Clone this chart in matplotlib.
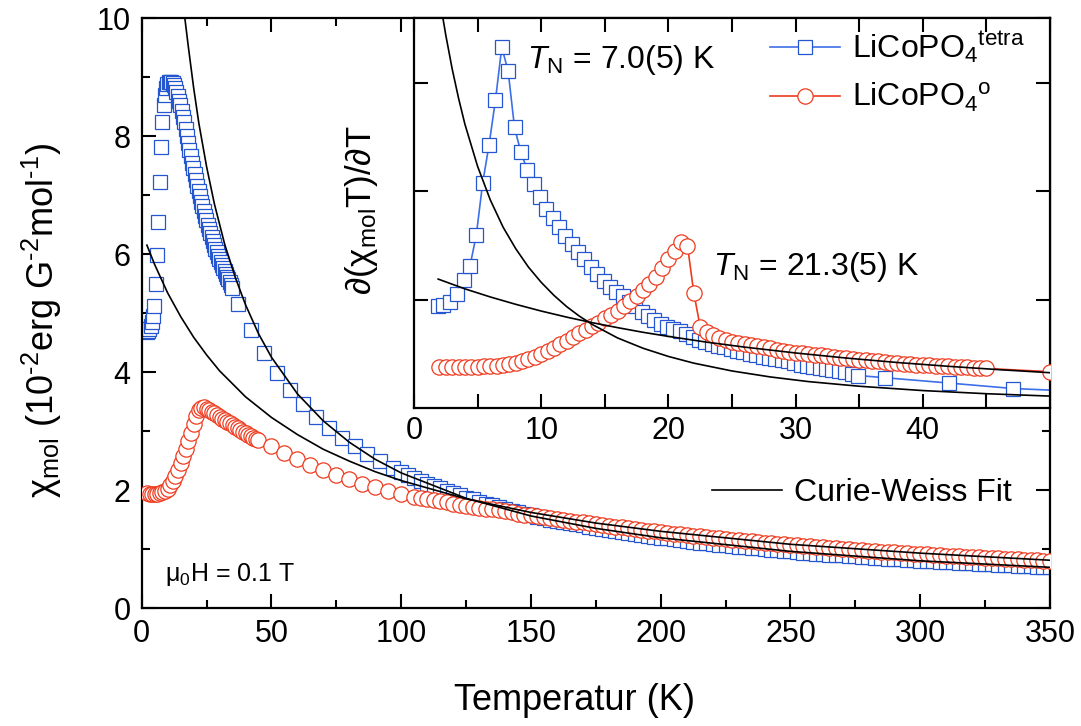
import matplotlib
matplotlib.use('Agg')
import matplotlib.pyplot as plt
from matplotlib.lines import Line2D
from matplotlib.ticker import MultipleLocator

plt.rcParams['font.family'] = ['Liberation Sans', 'DejaVu Sans']
plt.rcParams['mathtext.fontset'] = 'custom'
plt.rcParams['mathtext.rm'] = 'Liberation Sans'
plt.rcParams['mathtext.it'] = 'Liberation Sans:italic'
plt.rcParams['mathtext.bf'] = 'Liberation Sans:bold'

BLUE = '#2457cf'
BLUE_LINE = '#3d6fe8'
RED = '#ee3b1f'

# ---------------- main panel data: chi_mol vs T ----------------
tetra_T = [1.9, 2.3, 2.8, 3.4, 3.9, 4.4, 4.9, 5.4, 5.9, 6.4, 6.9, 7.4, 7.9, 8.4, 8.9, 9.4, 9.9,
           10.4, 10.9, 11.4, 11.9, 12.4, 12.9, 13.4, 13.9, 14.4, 14.9, 15.4, 15.9, 16.4, 16.9,
           17.4, 17.9, 18.4, 18.9, 19.4, 19.9, 20.4, 20.9, 21.4, 21.9, 22.4, 22.9, 23.4, 23.9,
           24.4, 24.9, 25.4, 25.9, 26.4, 26.9, 27.4, 27.9, 28.4, 28.9, 29.4, 29.9, 30.4, 30.9,
           31.4, 31.9, 32.4, 32.9, 33.4, 33.9, 34.4, 34.9,
           37, 42, 47, 52, 57, 62, 67, 72, 77, 82, 87, 92, 97,
           100, 102.5, 105, 107.5, 110, 112.5, 115, 117.5, 120, 122.5, 125, 127.5, 130, 132.5,
           135, 137.5, 140, 142.5, 145, 147.5, 150, 152.5, 155, 157.5, 160, 162.5, 165, 167.5,
           170, 172.5, 175, 177.5, 180, 182.5, 185, 187.5, 190, 192.5, 195, 197.5, 200, 202.5,
           205, 207.5, 210, 212.5, 215, 217.5, 220, 222.5, 225, 227.5, 230, 232.5, 235, 237.5,
           240, 242.5, 245, 247.5, 250, 252.5, 255, 257.5, 260, 262.5, 265, 267.5, 270, 272.5,
           275, 277.5, 280, 282.5, 285, 287.5, 290, 292.5, 295, 297.5, 300, 302.5, 305, 307.5,
           310, 312.5, 315, 317.5, 320, 322.5, 325, 327.5, 330, 332.5, 335, 337.5, 340, 342.5,
           345, 347.5, 350]
tetra_chi = [4.68, 4.70, 4.73, 4.78, 4.85, 4.95, 5.12, 5.50, 5.98, 6.55, 7.22, 7.82, 8.24, 8.52,
             8.70, 8.82, 8.88, 8.91, 8.92, 8.91, 8.89, 8.86, 8.81, 8.75, 8.68, 8.60, 8.52, 8.43,
             8.33, 8.23, 8.12, 8.00, 7.88, 7.77, 7.66, 7.55, 7.45, 7.35, 7.25, 7.16, 7.07, 6.98,
             6.89, 6.81, 6.73, 6.65, 6.57, 6.50, 6.43, 6.36, 6.29, 6.22, 6.15, 6.09, 6.03, 5.97,
             5.91, 5.86, 5.81, 5.76, 5.71, 5.66, 5.61, 5.57, 5.52, 5.48, 5.43,
             5.16, 4.72, 4.33, 3.99, 3.70, 3.45, 3.24, 3.05, 2.89, 2.74, 2.61, 2.49, 2.38,
             2.31, 2.26, 2.21, 2.16, 2.11, 2.07, 2.03, 1.99, 1.95, 1.91, 1.87, 1.84, 1.80, 1.77,
             1.74, 1.71, 1.68, 1.65, 1.625, 1.60, 1.575, 1.55, 1.525, 1.50, 1.48, 1.46, 1.44, 1.42,
             1.40, 1.38, 1.36, 1.34, 1.32, 1.305, 1.29, 1.27, 1.255, 1.24, 1.225, 1.21, 1.195, 1.18,
             1.165, 1.15, 1.14, 1.125, 1.11, 1.10, 1.09, 1.075, 1.065, 1.055, 1.04, 1.03, 1.02, 1.01,
             1.00, 0.99, 0.98, 0.97, 0.96, 0.95, 0.94, 0.932, 0.924, 0.915, 0.907, 0.899, 0.891, 0.883,
             0.875, 0.868, 0.86, 0.853, 0.846, 0.839, 0.832, 0.825, 0.818, 0.811, 0.804, 0.798, 0.791, 0.785,
             0.779, 0.773, 0.767, 0.761, 0.755, 0.749, 0.743, 0.738, 0.732, 0.727, 0.721, 0.716, 0.711, 0.706,
             0.701, 0.696, 0.691]

ortho_T = [2, 3, 4, 5, 6, 7, 8, 9, 10, 11, 12, 13, 14, 15, 16, 17, 18, 19, 20, 21, 22, 23, 24, 25,
           26, 27, 28, 29, 30, 31, 32, 33, 34, 35, 36, 37, 38, 39, 40, 41, 42, 43, 44, 45,
           50, 55, 60, 65, 70, 75, 80, 85, 90, 95, 100, 105,
           107.5, 110, 112.5, 115, 117.5, 120, 122.5, 125, 127.5, 130, 132.5, 135, 137.5, 140,
           142.5, 145, 147.5, 150, 152.5, 155, 157.5, 160, 162.5, 165, 167.5, 170, 172.5, 175,
           177.5, 180, 182.5, 185, 187.5, 190, 192.5, 195, 197.5, 200, 202.5, 205, 207.5, 210,
           212.5, 215, 217.5, 220, 222.5, 225, 227.5, 230, 232.5, 235, 237.5, 240, 242.5, 245,
           247.5, 250, 252.5, 255, 257.5, 260, 262.5, 265, 267.5, 270, 272.5, 275, 277.5, 280,
           282.5, 285, 287.5, 290, 292.5, 295, 297.5, 300, 302.5, 305, 307.5, 310, 312.5, 315,
           317.5, 320, 322.5, 325, 327.5, 330, 332.5, 335, 337.5, 340, 342.5, 345, 347.5, 350]
ortho_chi = [1.95, 1.94, 1.94, 1.94, 1.94, 1.95, 1.96, 1.98, 2.02, 2.08, 2.15, 2.24, 2.34, 2.45,
             2.57, 2.70, 2.83, 2.97, 3.12, 3.26, 3.35, 3.39, 3.40, 3.38, 3.35, 3.33, 3.30, 3.27,
             3.24, 3.21, 3.19, 3.16, 3.13, 3.10, 3.07, 3.05, 3.02, 2.99, 2.96, 2.94, 2.91, 2.88,
             2.86, 2.84,
             2.74, 2.63, 2.53, 2.43, 2.34, 2.26, 2.18, 2.11, 2.05, 1.99, 1.93, 1.88,
             1.87, 1.85, 1.83, 1.81, 1.79, 1.77, 1.75, 1.735, 1.72, 1.70, 1.685, 1.67, 1.655, 1.64,
             1.62, 1.60, 1.585, 1.57, 1.555, 1.54, 1.525, 1.51, 1.495, 1.48, 1.465, 1.45, 1.435, 1.42,
             1.405, 1.39, 1.38, 1.365, 1.35, 1.34, 1.325, 1.31, 1.30, 1.285, 1.275, 1.26, 1.25, 1.24,
             1.225, 1.215, 1.205, 1.19, 1.18, 1.17, 1.16, 1.15, 1.14, 1.13, 1.12, 1.11, 1.10, 1.09,
             1.08, 1.07, 1.062, 1.053, 1.045, 1.036, 1.028, 1.02, 1.012, 1.004, 0.996, 0.988, 0.98, 0.973,
             0.966, 0.958, 0.951, 0.944, 0.937, 0.93, 0.923, 0.916, 0.909, 0.903, 0.896, 0.89, 0.884, 0.877,
             0.871, 0.865, 0.859, 0.853, 0.847, 0.841, 0.836, 0.83, 0.824, 0.819, 0.814, 0.808, 0.803, 0.798]

# Curie-Weiss fit curves (main panel)
fit_tetra_T = [16.5, 18, 20, 22, 25, 28, 32, 36, 40, 45, 50, 60, 70, 80, 90, 100, 125, 150,
               175, 200, 250, 300, 350]
fit_tetra_chi = [10.04, 9.50, 8.82, 8.22, 7.48, 6.85, 6.16, 5.61, 5.14, 4.65, 4.25, 3.63, 3.17,
                 2.81, 2.52, 2.29, 1.86, 1.56, 1.35, 1.19, 0.96, 0.80, 0.69]
fit_ortho_T = [2, 5, 10, 15, 20, 25, 30, 40, 50, 60, 70, 80, 90, 100, 125, 150, 175, 200, 250,
               300, 350]
fit_ortho_chi = [6.15, 5.82, 5.34, 4.94, 4.59, 4.29, 4.02, 3.58, 3.23, 2.94, 2.69, 2.49, 2.31,
                 2.16, 1.85, 1.62, 1.44, 1.30, 1.08, 0.93, 0.81]

# ---------------- inset data: d(chi T)/dT ----------------
d_tetra_T = [1.9, 2.3, 2.8, 3.4, 3.9, 4.4, 4.9, 5.4, 5.9, 6.4, 6.9, 7.4, 7.9, 8.4, 8.9, 9.4, 9.9,
             10.4, 10.9, 11.4, 11.9, 12.4, 12.9, 13.4, 13.9, 14.4, 14.9, 15.4, 15.9, 16.4, 16.9,
             17.4, 17.9, 18.4, 18.9, 19.4, 19.9, 20.4, 20.9, 21.4, 21.9, 22.4, 22.9, 23.4, 23.9,
             24.4, 24.9, 25.4, 25.9, 26.4, 26.9, 27.4, 27.9, 28.4, 28.9, 29.4, 29.9, 30.4, 30.9,
             31.4, 31.9, 32.4, 32.9, 33.4, 33.9, 34.4, 34.9, 37.0, 42.1, 47.1, 52.0]
d_tetra = [0.94, 0.95, 0.98, 1.05, 1.18, 1.31, 1.60, 2.08, 2.43, 2.84, 3.33, 3.11, 2.59, 2.36,
           2.20, 2.07, 1.95, 1.84, 1.75, 1.67, 1.59, 1.51, 1.44, 1.38, 1.30, 1.24, 1.17, 1.12,
           1.07, 1.03, 0.98, 0.94, 0.89, 0.85, 0.81, 0.78, 0.75, 0.73, 0.71, 0.68, 0.66, 0.63,
           0.61, 0.59, 0.575, 0.56, 0.545, 0.53, 0.515, 0.50, 0.49, 0.475, 0.465, 0.455, 0.445,
           0.43, 0.415, 0.40, 0.39, 0.38, 0.37, 0.36, 0.35, 0.34, 0.33, 0.315, 0.30,
           0.28, 0.23, 0.18, 0.155]

d_ortho_T = [2.0, 2.5, 3.0, 3.5, 4.0, 4.5, 5.0, 5.5, 6.0, 6.5, 7.0, 7.5, 8.0, 8.5, 9.0, 9.5,
             10.0, 10.5, 11.0, 11.5, 12.0, 12.5, 13.0, 13.5, 14.0, 14.5, 15.0, 15.5, 16.0, 16.5,
             17.0, 17.5, 18.0, 18.5, 19.0, 19.5, 20.0, 20.5, 21.0, 21.5, 22.0, 22.5, 23.0, 23.5,
             24.0, 24.5, 25.0, 25.5, 26.0, 26.5, 27.0, 27.5, 28.0, 28.5, 29.0, 29.5, 30.0, 30.5,
             31.0, 31.5, 32.0, 32.5, 33.0, 33.5, 34.0, 34.5, 35.0, 35.5, 36.0, 36.5, 37.0, 37.5,
             38.0, 38.5, 39.0, 39.5, 40.0, 40.5, 41.0, 41.5, 42.0, 42.5, 43.0, 43.5, 44.0, 44.5,
             45.0, 50.0]
d_ortho = [0.382, 0.382, 0.381, 0.381, 0.381, 0.382, 0.383, 0.385, 0.388, 0.391, 0.397, 0.407,
           0.419, 0.435, 0.453, 0.475, 0.500, 0.530, 0.558, 0.589, 0.622, 0.653, 0.690, 0.720,
           0.757, 0.788, 0.828, 0.859, 0.899, 0.942, 0.988, 1.037, 1.090, 1.145, 1.213, 1.290,
           1.376, 1.453, 1.536, 1.50, 1.06, 0.75, 0.70, 0.67, 0.65, 0.63, 0.61, 0.60, 0.59, 0.58,
           0.57, 0.56, 0.55, 0.54, 0.53, 0.52, 0.51, 0.505, 0.50, 0.49, 0.485, 0.48, 0.47, 0.465,
           0.46, 0.45, 0.445, 0.44, 0.435, 0.43, 0.425, 0.42, 0.415, 0.41, 0.405, 0.40, 0.40,
           0.395, 0.39, 0.385, 0.385, 0.38, 0.375, 0.375, 0.37, 0.37, 0.365, 0.335]

dfit_tetra_T = [2.2, 2.5, 3, 3.5, 4, 5, 6, 7, 8, 9, 10, 11, 12, 13, 14, 16, 18, 20, 22, 25, 28,
                31, 35, 40, 45, 50]
dfit_tetra = [3.65, 3.44, 3.13, 2.86, 2.62, 2.23, 1.92, 1.67, 1.47, 1.30, 1.16, 1.04, 0.936,
              0.848, 0.772, 0.647, 0.552, 0.476, 0.414, 0.342, 0.287, 0.244, 0.201, 0.161,
              0.132, 0.110]
dfit_ortho_T = [1.9, 4, 6, 8, 10, 12, 14, 16, 18, 20, 23, 26, 30, 34, 38, 42, 46, 50]
dfit_ortho = [1.19, 1.10, 1.025, 0.957, 0.895, 0.839, 0.788, 0.742, 0.699, 0.661, 0.608, 0.562,
              0.508, 0.461, 0.420, 0.385, 0.354, 0.326]

# ---------------- figure ----------------
fig = plt.figure(figsize=(10.81, 7.26), dpi=100)
ax = fig.add_axes([0.1311, 0.1625, 0.8402, 0.8127])

SQ_MS = 10
CI_MS = 11

ax.plot(tetra_T, tetra_chi, ls='none', marker='s', ms=SQ_MS, mfc='white', mec=BLUE, mew=0.9, zorder=2)
ax.plot(ortho_T, ortho_chi, ls='none', marker='o', ms=CI_MS, mfc='white', mec=RED, mew=0.9, zorder=3)
ax.plot(fit_tetra_T, fit_tetra_chi, color='black', lw=1.2, zorder=4)
ax.plot(fit_ortho_T, fit_ortho_chi, color='black', lw=1.2, zorder=4)

ax.set_xlim(0, 350)
ax.set_ylim(0, 10)
ax.xaxis.set_major_locator(MultipleLocator(50))
ax.xaxis.set_minor_locator(MultipleLocator(25))
ax.yaxis.set_major_locator(MultipleLocator(2))
ax.yaxis.set_minor_locator(MultipleLocator(1))
ax.tick_params(which='both', direction='in', top=True, right=True, width=1.5)
ax.tick_params(which='major', length=10, labelsize=22, pad=8)
ax.tick_params(which='minor', length=6)
for s in ax.spines.values():
    s.set_linewidth(1.6)

fig.text(575 / 1081, 1 - 700 / 726, 'Temperatur (K)', ha='center', va='center', fontsize=26)
fig.text(42 / 1081, 1 - 320 / 726,
         r'$\mathrm{\chi}_{\mathrm{mol}}$ (10$^{\text{-2}}$erg G$^{\text{-2}}$mol$^{\text{-1}}$)',
         ha='center', va='center', rotation=90, fontsize=26)
ax.text(9, 0.45, r'$\mathrm{\mu}_0$H = 0.1 T', fontsize=18, ha='left', va='baseline')

cw_handle = Line2D([], [], color='black', lw=1.2)
ax.legend([cw_handle], ['Curie-Weiss Fit'], loc='center left', bbox_to_anchor=(0.628, 0.195),
          frameon=False, fontsize=23, handlelength=2.2, handletextpad=0.35, borderpad=0,
          borderaxespad=0)

# ---------------- inset ----------------
ins = fig.add_axes([0.3830, 0.4380, 0.5883, 0.5372])
ins.set_facecolor('white')
l1, = ins.plot(d_tetra_T, d_tetra, color=BLUE_LINE, lw=1.2, marker='s', ms=SQ_MS, mfc='white',
               mec=BLUE, mew=0.9, zorder=2)
l2, = ins.plot(d_ortho_T, d_ortho, color=RED, lw=1.2, marker='o', ms=CI_MS, mfc='white',
               mec=RED, mew=0.9, zorder=3)
ins.plot(dfit_tetra_T, dfit_tetra, color='black', lw=1.2, zorder=4)
ins.plot(dfit_ortho_T, dfit_ortho, color='black', lw=1.2, zorder=4)
ins.set_xlim(0, 50)
ins.set_ylim(0, 3.6)
ins.set_xticks([0, 10, 20, 30, 40])
ins.set_xticks([5, 15, 25, 35, 45], minor=True)
ins.set_yticks([1, 2, 3])
ins.set_yticklabels([])
ins.tick_params(which='both', direction='in', top=True, right=True, width=1.5)
ins.tick_params(which='major', length=10, labelsize=22, pad=6)
ins.tick_params(which='minor', length=10)
for s in ins.spines.values():
    s.set_linewidth(1.6)
fig.text(362 / 1081, 1 - 210 / 726,
         r'$\partial(\mathrm{\chi}_{\mathrm{mol}}\mathrm{T})/\partial\mathrm{T}$',
         ha='center', va='center', rotation=90, fontsize=25)
ins.text(8.9, 3.14, r'$T_{\mathrm{N}}$ = 7.0(5) K', fontsize=23, ha='left', va='baseline')
ins.text(23.5, 1.23, r'$T_{\mathrm{N}}$ = 21.3(5) K', fontsize=23, ha='left', va='baseline')
ins.legend([l1, l2], [r'LiCoPO$_4$$^{\mathrm{tetra}}$', r'LiCoPO$_4$$^{\mathrm{o}}$'],
           loc='upper left', bbox_to_anchor=(0.56, 0.97), frameon=False, fontsize=23,
           handlelength=2.2, handletextpad=0.35, borderpad=0, borderaxespad=0, labelspacing=0.5)

fig.savefig('out.png', dpi=100)
